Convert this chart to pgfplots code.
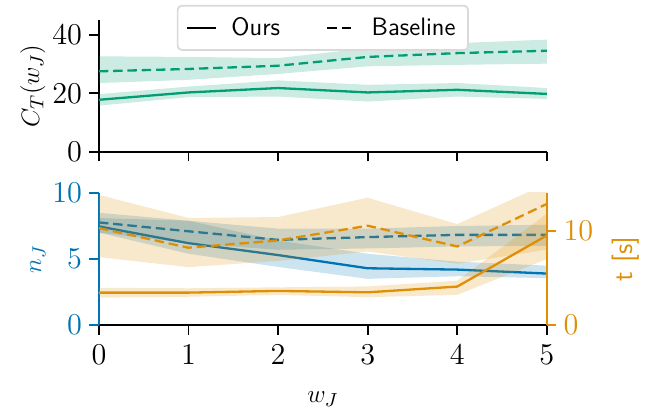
\documentclass[border=0pt]{standalone}
\usepackage{pgfplots}
\pgfplotsset{compat=1.18}
\definecolor{cgreen}{RGB}{2,158,115}
\definecolor{cblue}{RGB}{1,115,178}
\definecolor{corange}{RGB}{222,143,5}
\begin{document}
\begin{tikzpicture}
\path[use as bounding box] (-47.1pt,9.5pt) rectangle (262.9pt,-185.2pt);
\pgfplotsset{
  panel/.style={
    width=213.3pt, height=62.9pt, scale only axis,
    xmin=0, xmax=5, xtick={0,1,2,3,4,5},
    tick align=outside, major tick length=4.5pt,
    axis line style={line width=0.9pt},
    tick style={line width=0.9pt, black},
    tick label style={font=\fontsize{14.5}{16}\selectfont},
    label style={font=\fontsize{12.5}{14}\selectfont},
    ylabel shift=-3.5pt,
  },
  ours/.style={line width=1.1pt},
  base/.style={line width=1.1pt, dash pattern=on 4.5pt off 2.3pt},
  band/.style={draw=none, fill opacity=0.2, forget plot},
}
% top panel: C_T
\begin{axis}[panel, name=top, at={(0,0)}, anchor=north west,
  axis x line*=bottom, axis y line*=left,
  xticklabels={},
  ymin=0, ymax=45, ytick={0,20,40},
  ylabel={$C_T(w_J)$},
  legend style={at={(0.5,1.114)}, anchor=north, legend columns=2,
    draw=gray!30, line width=0.8pt, rounded corners=2pt, fill=white,
    font=\fontsize{12}{14}\selectfont\sffamily, inner xsep=4pt, inner ysep=3.5pt,
    /tikz/every odd column/.append style={column sep=5pt},
    /tikz/every even column/.append style={column sep=20pt}},
  legend image code/.code={\draw[#1] (0pt,0pt) -- (13.5pt,0pt);},
]
\addplot[band, fill=cgreen] coordinates {
  (0,19.7) (1,22.3) (2,24.4) (3,22.9) (4,23.5) (5,21.8)
  (5,18.1) (4,18.9) (3,17.2) (2,18.9) (1,18.7) (0,15.8)};
\addplot[band, fill=cgreen] coordinates {
  (0,32.6) (1,32.4) (2,32.0) (3,35.4) (4,37.1) (5,38.3)
  (5,30.1) (4,29.7) (3,29.2) (2,26.6) (1,24.6) (0,23.5)};
\addplot[ours, cgreen, forget plot] coordinates {
  (0,17.8) (1,20.3) (2,21.8) (3,20.3) (4,21.2) (5,19.8)};
\addplot[base, cgreen, forget plot] coordinates {
  (0,27.5) (1,28.3) (2,29.4) (3,32.4) (4,33.7) (5,34.5)};
\addlegendimage{black, line width=1.1pt}
\addlegendentry{Ours}
\addlegendimage{black, line width=1.1pt, dash pattern=on 4.5pt off 2.3pt}
\addlegendentry{Baseline}
\end{axis}
% bottom panel: n_J (left)
\begin{axis}[panel, name=bot, at={(top.south west)}, anchor=north west, yshift=-19.5pt,
  axis x line*=bottom, axis y line*=left,
  y axis line style={cblue}, ytick style={cblue, line width=0.9pt},
  yticklabel style={text=cblue},
  xticklabel style={yshift=-1.5pt},
  ymin=0, ymax=10, ytick={0,5,10},
  ylabel={$n_J$}, ylabel style={text=cblue},
  xlabel={$w_J$}, xlabel style={yshift=-6pt},
]
\addplot[band, fill=cblue] coordinates {
  (0,8.1) (1,7.9) (2,6.4) (3,5.4) (4,4.8) (5,4.5)
  (5,3.55) (4,3.7) (3,3.5) (2,4.4) (1,5.4) (0,7.0)};
\addplot[band, fill=cblue] coordinates {
  (0,8.5) (1,7.9) (2,7.3) (3,7.3) (4,7.5) (5,7.6)
  (5,6.0) (4,5.95) (3,5.8) (2,5.7) (1,6.2) (0,7.0)};
\addplot[ours, cblue] coordinates {
  (0,7.47) (1,6.2) (2,5.3) (3,4.3) (4,4.2) (5,3.9)};
\addplot[base, cblue] coordinates {
  (0,7.77) (1,7.1) (2,6.45) (3,6.66) (4,6.83) (5,6.83)};
\end{axis}
% bottom panel: t (right)
\begin{axis}[panel, at={(top.south west)}, anchor=north west, yshift=-19.5pt,
  axis x line=none, axis y line*=right,
  y axis line style={corange}, ytick style={corange, line width=0.9pt},
  yticklabel style={text=corange},
  ymin=0, ymax=14, ytick={0,10},
  ylabel shift=2pt,
  ylabel={\sffamily t [s]}, ylabel style={text=corange, font=\fontsize{13}{15}\selectfont},
]
\addplot[band, fill=corange] coordinates {
  (0,3.95) (1,3.9) (2,4.0) (3,4.1) (4,4.7) (5,11.8)
  (5,7.0) (4,3.2) (3,2.95) (2,3.2) (1,3.0) (0,2.9)};
\addplot[band, fill=corange] coordinates {
  (0,13.8) (1,11.35) (2,11.45) (3,13.5) (4,10.7) (5,15)
  (5,8.0) (4,6.5) (3,7.8) (2,6.8) (1,6.14) (0,7.2)};
\addplot[ours, corange] coordinates {
  (0,3.44) (1,3.44) (2,3.62) (3,3.47) (4,4.08) (5,9.5)};
\addplot[base, corange] coordinates {
  (0,10.28) (1,8.2) (2,8.97) (3,10.53) (4,8.33) (5,12.84)};
\end{axis}
\end{tikzpicture}
\end{document}
